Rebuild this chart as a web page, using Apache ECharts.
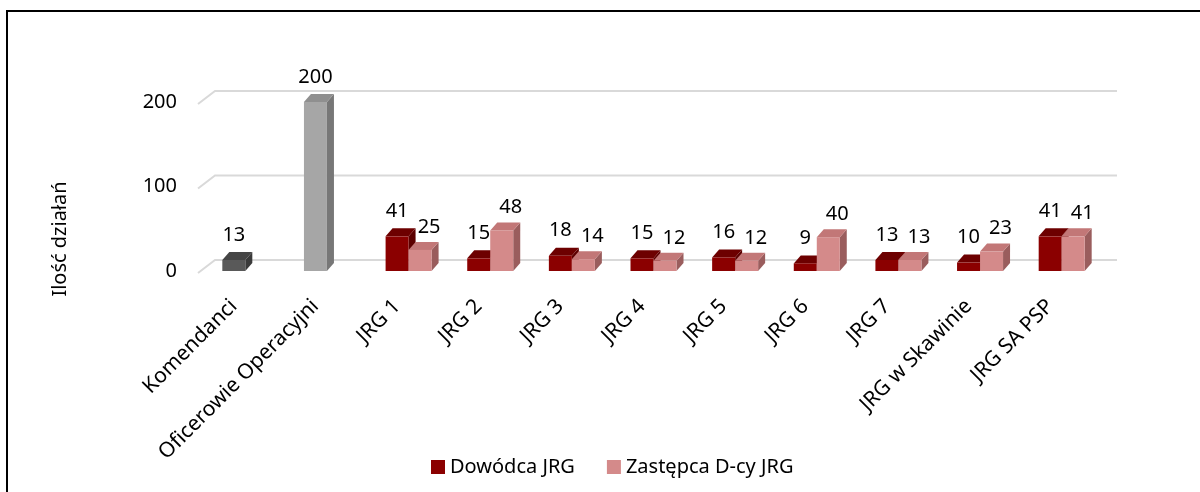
<!DOCTYPE html>
<html>
<head>
<meta charset="utf-8">
<style>
  html, body { margin: 0; padding: 0; background: #fff; }
  #main { width: 1200px; height: 492px; }
</style>
<script src="https://cdn.jsdelivr.net/npm/echarts@6/dist/echarts.min.js"></script>
</head>
<body>
<div id="main"></div>
<script>
// dane
const categories = ["Komendanci", "Oficerowie Operacyjni", "JRG 1", "JRG 2", "JRG 3", "JRG 4",
  "JRG 5", "JRG 6", "JRG 7", "JRG w Skawinie", "JRG SA PSP"]
const dowodca = [13, 200, 41, 15, 18, 15, 16, 9, 13, 10, 41]
const zastepca = [null, null, 25, 48, 14, 12, 12, 40, 13, 23, 41]
const yTicks = [0, 100, 200]

const FONT = "Noto Sans"
const BAR_W = 23
const DX = 7
const DY = 8

// kolory ścian słupków
const redFaces = { front: "#8b0000", top: "#6d0000", side: "#5c0000" }
const pinkFaces = { front: "#d48a8a", top: "#c27777", side: "#9a5d5d" }
const grayFaces = {
  0: { front: "#595959", top: "#454545", side: "#3a3a3a" },
  1: { front: "#a6a6a6", top: "#8f8f8f", side: "#777777" },
}

const toPoints = (arr) => arr.map((v, i) => (v == null ? null : [i, v])).filter(Boolean)

// słupek 3D
const bar3d = (shift, facesFor, labelDx, labelUp) => (params, api) => {
  const i = api.value(0)
  const v = api.value(1)
  const top = api.coord([i, v])
  const base = api.coord([i, 0])
  const f = facesFor(i)
  const x0 = top[0] - BAR_W / 2 + shift * BAR_W
  const x1 = x0 + BAR_W
  const yT = top[1]
  const yB = base[1]
  return {
    type: "group",
    children: [
      { type: "polygon", shape: { points: [[x1, yB], [x1 + DX, yB - DY], [x1 + DX, yT - DY], [x1, yT]] }, style: { fill: f.side } },
      { type: "polygon", shape: { points: [[x0, yT], [x0 + DX, yT - DY], [x1 + DX, yT - DY], [x1, yT]] }, style: { fill: f.top } },
      { type: "rect", shape: { x: x0, y: yT, width: BAR_W, height: yB - yT }, style: { fill: f.front } },
      {
        type: "text",
        style: {
          text: String(v), x: (x0 + x1) / 2 + labelDx, y: yT - DY - labelUp,
          align: "center", verticalAlign: "middle", fontFamily: FONT, fontSize: 20, fill: "#000",
        },
      },
    ],
  }
}

// linie siatki z perspektywą
const gridLine = (params, api) => {
  const cs = params.coordSys
  const y = api.coord([0, api.value(1)])[1]
  return {
    type: "polyline",
    shape: { points: [[cs.x + 5, y + 2], [cs.x + 22, y - 11], [cs.x + cs.width + 26, y - 11]] },
    style: { stroke: "#d9d9d9", lineWidth: 2, fill: null },
  }
}

const chart = echarts.init(document.getElementById("main"))

const option = {
  animation: false,
  textStyle: { fontFamily: FONT },
  graphic: [
    {
      type: "rect",
      shape: { x: 7, y: 11, width: 1200, height: 500 },
      style: { fill: "none", stroke: "#000", lineWidth: 2 },
    },
    {
      type: "text",
      x: 60, y: 239, rotation: Math.PI / 2,
      style: { text: "Ilość działań", align: "center", verticalAlign: "middle", fontFamily: FONT, fontSize: 20, fill: "#000" },
    },
  ],
  legend: {
    data: ["Dowódca JRG", "Zastępca D-cy JRG"],
    left: 426,
    top: 452,
    icon: "rect",
    itemWidth: 14,
    itemHeight: 14,
    itemGap: 32,
    selectedMode: false,
    textStyle: { fontFamily: FONT, fontSize: 20, color: "#000" },
  },
  grid: { left: 193, right: 109, top: 102, bottom: 221 },
  xAxis: {
    type: "category",
    data: categories,
    axisLine: { show: false },
    axisTick: { show: false },
    axisLabel: { interval: 0, rotate: 45, margin: 32, fontFamily: FONT, fontSize: 21, color: "#000" },
  },
  yAxis: {
    type: "value",
    min: 0,
    max: 200,
    interval: 100,
    splitLine: { show: false },
    axisLine: { show: false },
    axisTick: { show: false },
    axisLabel: { margin: 16, fontFamily: FONT, fontSize: 20, color: "#000" },
  },
  series: [
    {
      type: "custom",
      name: "grid",
      silent: true,
      z: 1,
      data: yTicks.map((v) => [0, v]),
      renderItem: gridLine,
    },
    {
      type: "custom",
      name: "Dowódca JRG",
      z: 2,
      itemStyle: { color: redFaces.front },
      data: toPoints(dowodca),
      renderItem: bar3d(0, (i) => grayFaces[i] || redFaces, 0, 17),
    },
    {
      type: "custom",
      name: "Zastępca D-cy JRG",
      z: 3,
      itemStyle: { color: pinkFaces.front },
      data: toPoints(zastepca),
      renderItem: bar3d(1, () => pinkFaces, 9, 15),
    },
  ],
}

chart.setOption(option)
</script>
</body>
</html>
